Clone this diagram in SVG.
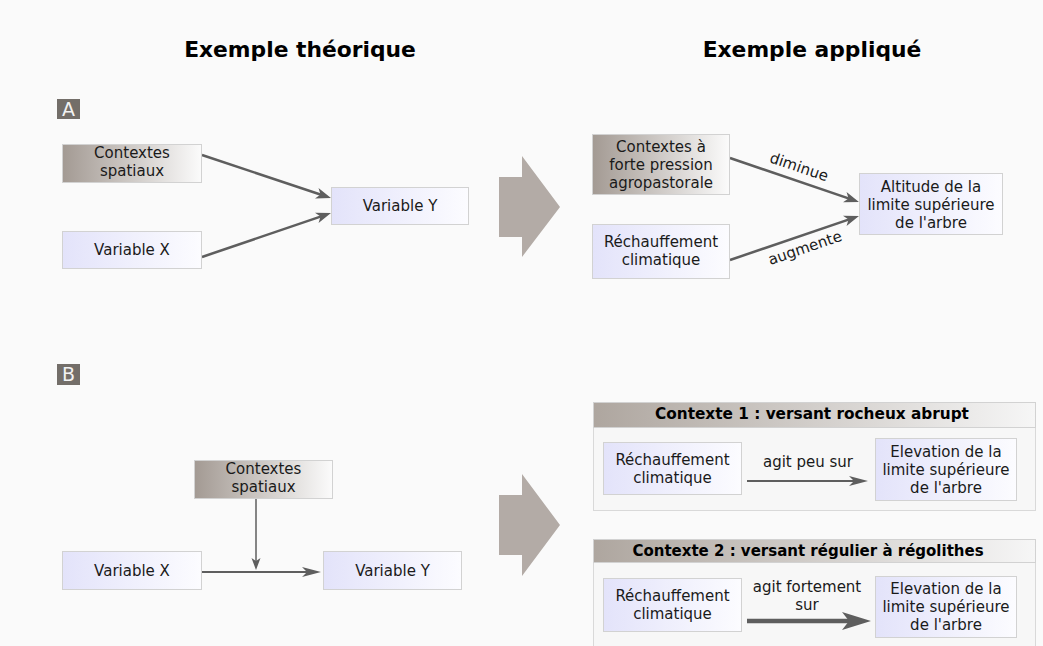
<svg xmlns="http://www.w3.org/2000/svg" width="1043" height="646" viewBox="0 0 1043 646">
<defs>
<linearGradient id="gCtx" x1="0" y1="0" x2="1" y2="0">
<stop offset="0" stop-color="#a39a93"/><stop offset="1" stop-color="#fbfbfb"/>
</linearGradient>
<linearGradient id="gVar" x1="0" y1="0" x2="1" y2="0">
<stop offset="0" stop-color="#e3e3fa"/><stop offset="1" stop-color="#fcfcff"/>
</linearGradient>
<linearGradient id="gHead" x1="0" y1="0" x2="1" y2="0">
<stop offset="0" stop-color="#aea69f"/><stop offset="1" stop-color="#f6f6f6"/>
</linearGradient>
<marker id="ahA" markerUnits="userSpaceOnUse" viewBox="-16 -7 17 14" refX="-8" refY="0" markerWidth="17" markerHeight="14" orient="auto">
<path d="M0,0 L-15,-5.5 L-11,0 L-15,5.5 Z" fill="#5e5e5e"/>
</marker>
<marker id="ahB" markerUnits="userSpaceOnUse" viewBox="-20 -7 21 14" refX="-8" refY="0" markerWidth="21" markerHeight="14" orient="auto">
<path d="M0,0 L-19,-5 L-14,0 L-19,5 Z" fill="#5e5e5e"/>
</marker>
<marker id="ahS" markerUnits="userSpaceOnUse" viewBox="-13 -6 14 12" refX="-5" refY="0" markerWidth="14" markerHeight="12" orient="auto">
<path d="M0,0 L-12,-4.5 L-9,0 L-12,4.5 Z" fill="#5e5e5e"/>
</marker>
<marker id="ahT" markerUnits="userSpaceOnUse" viewBox="-31 -10 32 20" refX="-12" refY="0" markerWidth="32" markerHeight="20" orient="auto">
<path d="M0,0 L-29,-9 L-22,0 L-29,9 Z" fill="#5e5e5e"/>
</marker>
</defs>
<style>
.t{font-family:"DejaVu Sans","Liberation Sans",sans-serif;font-size:15px;fill:#1a1a1a;text-anchor:middle}
.h{font-family:"DejaVu Sans","Liberation Sans",sans-serif;font-weight:bold;fill:#000;text-anchor:middle}
.ctx{fill:url(#gCtx);stroke:#d2d2d2;stroke-width:1}
.var{fill:url(#gVar);stroke:#d2d2d2;stroke-width:1}
.lbl{fill:#736e69}
.lt{font-family:"DejaVu Sans","Liberation Sans",sans-serif;font-size:19px;fill:#f2f2f2;text-anchor:middle}
.big{fill:#b3aba6}
.c{stroke:#5e5e5e;fill:none}
.panel{fill:#f7f7f7;stroke:#d9d9d9;stroke-width:1}
.head{fill:url(#gHead);stroke:#d2d2d2;stroke-width:1}
</style>
<rect width="1043" height="646" fill="#fafafa"/>
<g id="titles">
<text class="h" x="300" y="57" font-size="21.8">Exemple théorique</text>
<text class="h" x="812" y="57" font-size="21.8">Exemple appliqué</text>
</g>
<g id="labelA"><rect class="lbl" x="57" y="99" width="23" height="20"/><text class="lt" x="68.5" y="116">A</text></g>
<g id="labelB"><rect class="lbl" x="57" y="364" width="23" height="21"/><text class="lt" x="68.5" y="381">B</text></g>
<g id="bigArrowA"><path class="big" d="M499,177 L522,177 L522,156 L560,207 L522,257 L522,237 L499,237 Z"/></g>
<g id="bigArrowB"><path class="big" d="M499,495 L522,495 L522,474 L560,525 L522,576 L522,555 L499,555 Z"/></g>

<g id="panelB1"><rect class="panel" x="593.5" y="402.5" width="442" height="108"/><rect class="head" x="593.5" y="402.5" width="442" height="25"/>
<text class="h" x="812" y="419" font-size="15.3">Contexte 1 : versant rocheux abrupt</text></g>
<g id="panelB2"><rect class="panel" x="593.5" y="539.5" width="442" height="112"/><rect class="head" x="593.5" y="539.5" width="442" height="23"/>
<text class="h" x="808" y="556" font-size="15">Contexte 2 : versant régulier à régolithes</text></g>

<g id="connectors">
<line class="c" stroke-width="2.5" x1="202" y1="155" x2="323.4" y2="195.5" marker-end="url(#ahA)"/>
<line class="c" stroke-width="2.5" x1="202" y1="257" x2="323.4" y2="215.6" marker-end="url(#ahA)"/>
<line class="c" stroke-width="2.5" x1="730" y1="158" x2="851.4" y2="199.4" marker-end="url(#ahA)"/>
<line class="c" stroke-width="2.5" x1="730" y1="260" x2="851.4" y2="218.6" marker-end="url(#ahA)"/>
<line class="c" stroke-width="2.2" x1="202" y1="572" x2="313" y2="572" marker-end="url(#ahB)"/>
<line class="c" stroke-width="1.5" x1="256" y1="499" x2="256" y2="565" marker-end="url(#ahS)"/>
<line class="c" stroke-width="2" x1="747" y1="481" x2="860" y2="481" marker-end="url(#ahB)"/>
<line class="c" stroke-width="4.5" x1="747" y1="621" x2="859" y2="621" marker-end="url(#ahT)"/>
<text class="t" transform="translate(799,167) rotate(18.8)" x="0" y="5">diminue</text>
<text class="t" transform="translate(805,248) rotate(-18.8)" x="0" y="5">augmente</text>
<text class="t" x="808" y="467">agit peu sur</text>
<text class="t" x="807" y="592">agit fortement</text>
<text class="t" x="807" y="610">sur</text>
</g>

<g id="nodeA_ctx"><rect class="ctx" x="62.5" y="144.5" width="139" height="38"/>
<text class="t" x="132" y="158">Contextes</text><text class="t" x="132" y="176">spatiaux</text></g>
<g id="nodeA_x"><rect class="var" x="62.5" y="231.5" width="139" height="37"/><text class="t" x="132" y="255">Variable X</text></g>
<g id="nodeA_y"><rect class="var" x="331.5" y="187.5" width="137" height="37"/><text class="t" x="400" y="211">Variable Y</text></g>

<g id="nodeA2_ctx"><rect class="ctx" x="592.5" y="134.5" width="137" height="60"/>
<text class="t" x="661" y="152">Contextes à</text><text class="t" x="661" y="170">forte pression</text><text class="t" x="661" y="188">agropastorale</text></g>
<g id="nodeA2_x"><rect class="var" x="592.5" y="224.5" width="137" height="54"/>
<text class="t" x="661" y="247">Réchauffement</text><text class="t" x="661" y="265">climatique</text></g>
<g id="nodeA2_y"><rect class="var" x="859.5" y="173.5" width="143" height="61"/>
<text class="t" x="931" y="192">Altitude de la</text><text class="t" x="931" y="210">limite supérieure</text><text class="t" x="931" y="228">de l'arbre</text></g>

<g id="nodeB_ctx"><rect class="ctx" x="194.5" y="460.5" width="138" height="38"/>
<text class="t" x="263.5" y="474">Contextes</text><text class="t" x="263.5" y="492">spatiaux</text></g>
<g id="nodeB_x"><rect class="var" x="62.5" y="551.5" width="139" height="38"/><text class="t" x="132" y="576">Variable X</text></g>
<g id="nodeB_y"><rect class="var" x="323.5" y="551.5" width="138" height="38"/><text class="t" x="392.5" y="576">Variable Y</text></g>

<g id="nodeB1_x"><rect class="var" x="603.5" y="442.5" width="138" height="52"/>
<text class="t" x="672.5" y="465">Réchauffement</text><text class="t" x="672.5" y="483">climatique</text></g>
<g id="nodeB1_y"><rect class="var" x="875.5" y="438.5" width="141" height="62"/>
<text class="t" x="946" y="457">Elevation de la</text><text class="t" x="946" y="475">limite supérieure</text><text class="t" x="946" y="493">de l'arbre</text></g>
<g id="nodeB2_x"><rect class="var" x="603.5" y="578.5" width="138" height="53"/>
<text class="t" x="672.5" y="601">Réchauffement</text><text class="t" x="672.5" y="619">climatique</text></g>
<g id="nodeB2_y"><rect class="var" x="875.5" y="576.5" width="141" height="61"/>
<text class="t" x="946" y="594">Elevation de la</text><text class="t" x="946" y="612">limite supérieure</text><text class="t" x="946" y="630">de l'arbre</text></g>
</svg>
